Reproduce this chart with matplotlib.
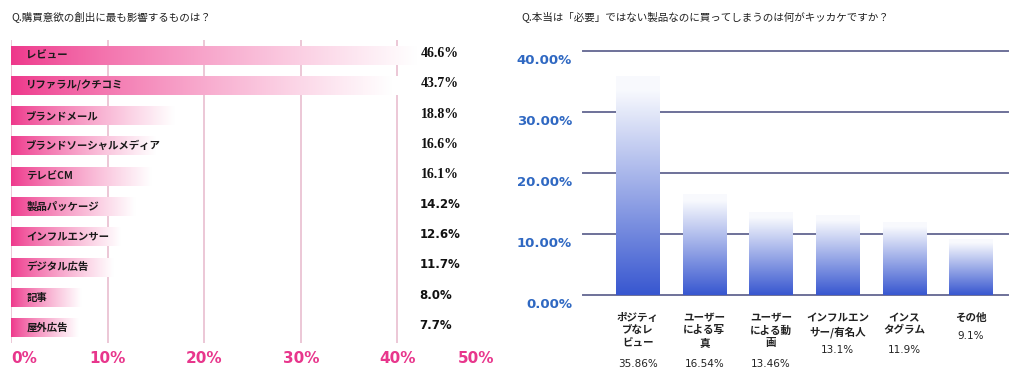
import numpy as np
import matplotlib.pyplot as plt
from matplotlib.colors import to_rgb
from matplotlib.transforms import blended_transform_factory, ScaledTranslation

plt.rcParams['font.family'] = ['Noto Sans CJK JP', 'DejaVu Sans']

# --- data: left chart ---
left_title = "Q.購買意欲の創出に最も影響するものは？"
left_labels = ["レビュー", "リファラル/クチコミ", "ブランドメール", "ブランドソーシャルメディア",
               "テレビCM", "製品パッケージ", "インフルエンサー", "デジタル広告", "記事", "屋外広告"]
left_values = [46.6, 43.7, 18.8, 16.6, 16.1, 14.2, 12.6, 11.7, 8.0, 7.7]
left_ticks = [0, 10, 20, 30, 40, 50]

# --- data: right chart ---
right_title = "Q.本当は「必要」ではない製品なのに買ってしまうのは何がキッカケですか？"
right_labels = ["ポジティ\nブなレ\nビュー", "ユーザー\nによる写\n真", "ユーザー\nによる動\n画",
                "インフルエン\nサー/有名人", "インス\nタグラム", "その他"]
right_values = [35.86, 16.54, 13.46, 13.1, 11.9, 9.1]
right_value_text = ["35.86%", "16.54%", "13.46%", "13.1%", "11.9%", "9.1%"]
right_ticks = [0, 10, 20, 30, 40]

W, H = 1024, 379
fig = plt.figure(figsize=(W / 100, H / 100), dpi=100)


def px_axes(x0, y0, x1, y1):
    return fig.add_axes([x0 / W, 1 - y1 / H, (x1 - x0) / W, (y1 - y0) / H])


PINK = np.array(to_rgb("#EE368A"))
BLUE = np.array(to_rgb("#3857D0"))
WHITE = np.ones(3)

t = np.linspace(0, 1, 256)

# ---------------- Left chart ----------------
ax = px_axes(11, 40, 494, 343)
for tk in left_ticks[:-1]:
    ax.axvline(tk, color="#EBC3D3", lw=1.3, zorder=1)

mix = np.clip(t / 0.9, 0, 1) ** 0.8
grad_pink = (PINK[None, :] * (1 - mix[:, None]) + WHITE[None, :] * mix[:, None])[None, :, :]
for i, (lab, v) in enumerate(zip(left_labels, left_values)):
    ax.imshow(grad_pink, extent=(0, v, i + 0.31, i - 0.31), aspect="auto",
              interpolation="bilinear", zorder=2)
    ax.annotate(lab, xy=(0, i), xytext=(11, 0), textcoords="offset points",
                va="center", ha="left", fontsize=7.5, fontweight="bold",
                color="#1a1a1a", zorder=3)

trans = blended_transform_factory(ax.transAxes, ax.transData)
for i, v in enumerate(left_values):
    if i < 5:
        ax.text(0.848, i - 0.05, f"{v:.1f}%", transform=trans, ha="left", va="center",
                fontsize=10, fontweight="bold", family="Liberation Serif", color="#111111",
                zorder=4)
    else:
        ax.text(0.846, i - 0.08, f"{v:.1f}%", transform=trans, ha="left", va="center",
                fontsize=8.5, fontweight="bold", family="DejaVu Sans", color="#111111",
                zorder=4)

ax.set_xlim(0, 50)
ax.set_ylim(len(left_labels) - 0.5, -0.5)
ax.set_xticks(left_ticks)
ax.set_xticklabels([f"{x}%" for x in left_ticks], color="#E8368C", fontsize=11,
                   fontweight="bold", family="DejaVu Sans")
ax.get_xticklabels()[0].set_ha("left")
ax.get_xticklabels()[-1].set_ha("right")
ax.tick_params(axis="x", length=0, pad=6)
ax.set_yticks([])
for s in ax.spines.values():
    s.set_visible(False)
fig.text(11 / W, 1 - 18 / H, left_title, fontsize=7.6, va="center", ha="left", color="#222222")

# ---------------- Right chart ----------------
ax2 = px_axes(583, 51, 1008, 295)
for yv in right_ticks:
    ax2.axhline(yv, color="#6E7199", lw=1.4, zorder=1, clip_on=False)

mix_b = np.clip(t / 0.94, 0, 1)
top_col = np.array([0.975, 0.98, 0.995])
grad_blue = (BLUE[None, :] * (1 - mix_b[:, None]) + top_col[None, :] * mix_b[:, None])[:, None, :]
for i, v in enumerate(right_values):
    ax2.imshow(grad_blue, extent=(i - 0.323, i + 0.323, 0, v), origin="lower",
               aspect="auto", interpolation="bilinear", zorder=2)

for i, (lab, vt) in enumerate(zip(right_labels, right_value_text)):
    ax2.annotate(lab, xy=(i, 0), xytext=(0, -13), textcoords="offset points",
                 ha="center", va="top", multialignment="center", fontsize=7.6,
                 fontweight="bold", color="#222222", linespacing=1.3,
                 annotation_clip=False)
    n = lab.count("\n") + 1
    ax2.annotate(vt, xy=(i, 0), xytext=(0, -13 - (n * 14 + 4) * 0.72), textcoords="offset points",
                 ha="center", va="top", fontsize=7.5, color="#222222",
                 family="DejaVu Sans", annotation_clip=False)

ax2.set_xlim(-0.82, len(right_labels) - 0.44)
ax2.set_ylim(0, 40)
ax2.set_xticks([])
ax2.set_yticks(right_ticks)
ax2.set_yticklabels([f"{y:.2f}%" for y in right_ticks], color="#2F68C2", fontsize=9.5,
                    fontweight="bold", family="DejaVu Sans")
ax2.tick_params(axis="y", length=0, pad=8)
for lbl in ax2.get_yticklabels():
    lbl.set_transform(lbl.get_transform() + ScaledTranslation(0, -6 / 72, fig.dpi_scale_trans))
for s in ax2.spines.values():
    s.set_visible(False)
fig.text(521 / W, 1 - 18 / H, right_title, fontsize=7.6, va="center", ha="left", color="#222222")

fig.savefig("out.png", dpi=100, facecolor="white")
